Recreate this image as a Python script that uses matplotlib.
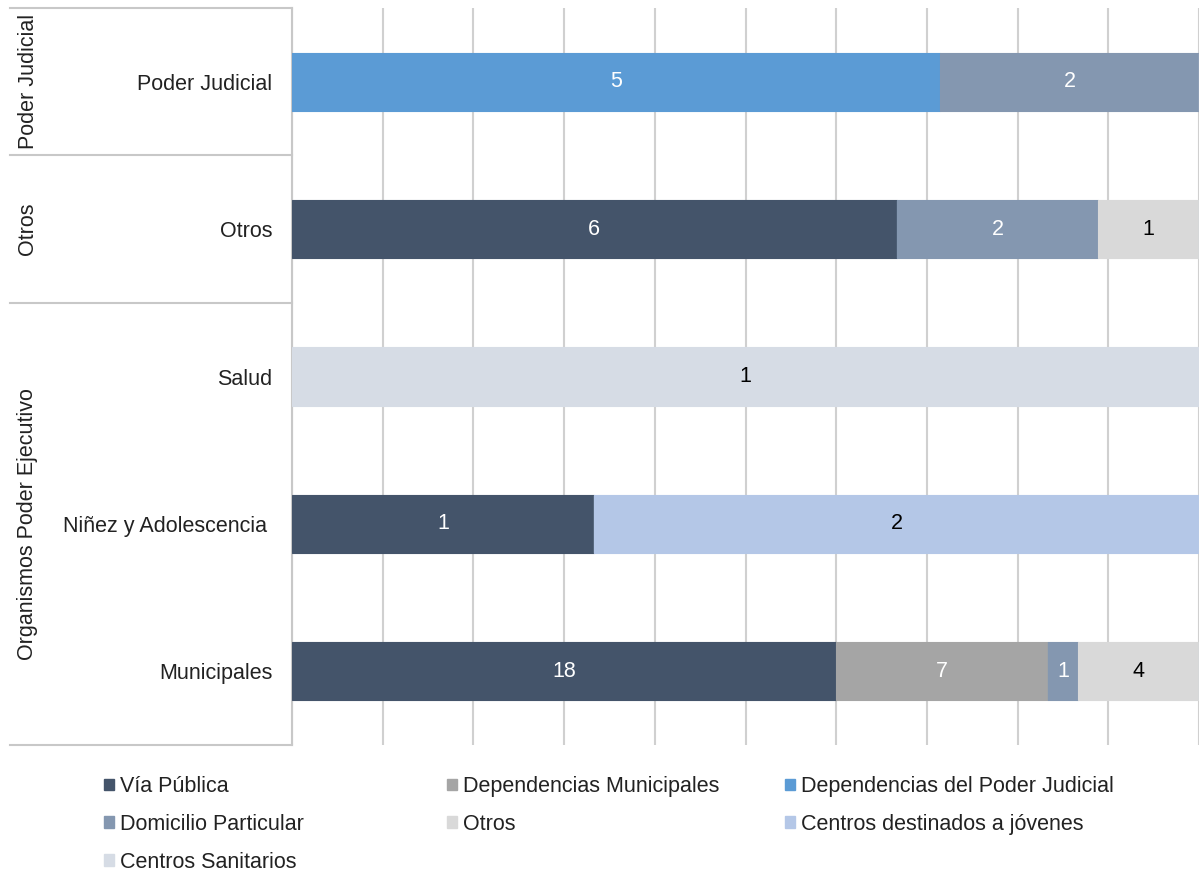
import matplotlib
matplotlib.use('Agg')
import matplotlib.pyplot as plt
import numpy as np
from matplotlib.patches import Patch

plt.rcParams['font.family'] = ['Liberation Sans', 'DejaVu Sans']

# categorias (de abajo hacia arriba)
categorias = ['Municipales', 'Niñez y Adolescencia ', 'Salud', 'Otros', 'Poder Judicial']
series = ['Vía Pública', 'Dependencias Municipales', 'Dependencias del Poder Judicial',
          'Domicilio Particular', 'Otros', 'Centros destinados a jóvenes', 'Centros Sanitarios']
via_publica = [18, 1, 0, 6, 0]
dep_municipales = [7, 0, 0, 0, 0]
dep_judicial = [0, 0, 0, 0, 5]
domicilio = [1, 0, 0, 2, 2]
otros = [4, 0, 0, 1, 0]
centros_jovenes = [0, 2, 0, 0, 0]
centros_sanitarios = [0, 0, 1, 0, 0]
grupos = ['Organismos Poder Ejecutivo', 'Otros', 'Poder Judicial']

valores = [via_publica, dep_municipales, dep_judicial, domicilio, otros, centros_jovenes, centros_sanitarios]
colores = ['#44546A', '#A5A5A5', '#5B9BD5', '#8497B0', '#D9D9D9', '#B4C7E7', '#D6DCE5']
color_texto = ['white', 'white', 'white', 'white', 'black', 'black', 'black']

data = np.array(valores, dtype=float)
total = data.sum(axis=0)
pct = data / total * 100

fs = 15.5
fig = plt.figure(figsize=(12, 8.71), dpi=100)
ax = fig.add_axes([292/1200, 1 - 745/871, 907/1200, 737/871])

y = np.arange(len(categorias))
izq = np.zeros(len(categorias))
for i, s in enumerate(series):
    ax.barh(y, pct[i], left=izq, height=0.394, color=colores[i],
            edgecolor=colores[i], linewidth=0.8, label=s, zorder=3)
    for j in range(len(categorias)):
        if data[i, j] > 0:
            ax.text(izq[j] + pct[i, j] / 2, y[j], '%d' % data[i, j], ha='center', va='center',
                    fontsize=fs, color=color_texto[i], zorder=4)
    izq += pct[i]

ax.set_xlim(0, 100)
ax.set_ylim(-0.5, len(categorias) - 0.5)
ax.set_xticks(np.arange(0, 101, 10))
ax.set_xticklabels([])
ax.grid(axis='x', color='#D0D0D0', linewidth=1.5, zorder=0)
ax.tick_params(axis='both', length=0)
ax.tick_params(axis='y', pad=14, labelsize=fs, labelcolor='#222222')
ax.set_yticks(y)
ax.set_yticklabels(categorias)
for sp in ['top', 'right', 'bottom']:
    ax.spines[sp].set_visible(False)
ax.spines['left'].set_color('#C8C8C8')
ax.spines['left'].set_linewidth(1.5)

# eje de categorias multinivel
trans = matplotlib.transforms.blended_transform_factory(ax.transAxes, ax.transData)
x0 = (10 - 292) / 907
for yy in [-0.5, 2.5, 3.5, 4.5]:
    ax.plot([x0, 0], [yy, yy], color='#C8C8C8', linewidth=1.5, transform=trans, clip_on=False)
xg = (28 - 292) / 907
centros_grupo = [1.0, 3.0, 4.0]
for g, c in zip(grupos, centros_grupo):
    ax.text(xg, c, g, rotation=90, ha='center', va='center', fontsize=fs,
            color='#222222', transform=trans)

# leyenda en tres columnas
columnas = [[0, 3, 6], [1, 4], [2, 5]]
xs = [104, 447, 785]
for col, xl in zip(columnas, xs):
    handles = [Patch(facecolor=colores[k], edgecolor=colores[k]) for k in col]
    labels = [series[k] for k in col]
    leg = fig.legend(handles, labels, loc='upper left', bbox_to_anchor=(xl / 1200, 1 - 776 / 871),
                     frameon=False, fontsize=fs, handlelength=0.45, handleheight=0.45,
                     handletextpad=0.3, labelspacing=0.78, borderpad=0, borderaxespad=0)
    for t in leg.get_texts():
        t.set_color('#222222')

plt.savefig('out.png', dpi=100)
